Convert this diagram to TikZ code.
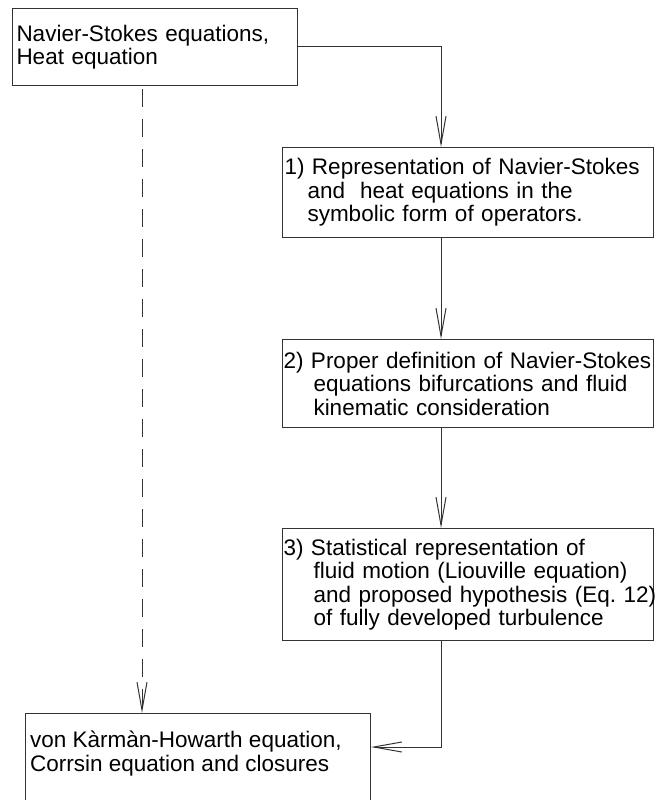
\documentclass[tikz,border=0pt]{standalone}
\usepackage{fontspec}
\setmainfont{Liberation Sans}
\usetikzlibrary{arrows.meta}
\frenchspacing
\begin{document}
\begin{tikzpicture}[x=1pt,y=-1pt,
  box/.style={draw=black!80, line width=1pt, anchor=north west, inner ysep=0pt,
    align=left, font=\fontsize{22.5}{23.5}\selectfont},
  txt/.style={inner sep=0pt, align=left, font=\fontsize{22.5}{23.5}\selectfont},
  conn/.style={draw=black!80, line width=1pt, -{Straight Barb[length=28pt,width=10pt]}},
  dconn/.style={conn, dash pattern=on 18pt off 12pt},
]
\useasboundingbox (0,0) rectangle (668,800);
\clip (0,0) rectangle (668,800);

\node[box, inner xsep=4pt, minimum width=285pt, minimum height=77pt, text width=277pt] (A) at (12,8)
  {Navier-Stokes equations,\\Heat equation};

\node[box, inner xsep=2pt, minimum width=371pt, minimum height=90pt, text width=367pt] (B1) at (282,147)
  {\mbox{1) Representation of Navier-Stokes}\\\mbox{\hspace*{23pt}and \ heat equations in the}\\\mbox{\hspace*{23pt}symbolic form of operators.}};

\node[box, inner xsep=1pt, minimum width=371pt, minimum height=88pt, text width=369pt] (B2) at (282,339)
  {\mbox{2) Proper definition of Navier-Stokes}\\\mbox{\hspace*{30pt}equations bifurcations and fluid}\\\mbox{\hspace*{30pt}kinematic consideration}};

\node[box, inner xsep=1pt, minimum width=371pt, minimum height=112pt, text width=369pt] (B3) at (282,528)
  {\mbox{3) Statistical representation of}\\\mbox{\hspace*{30pt}fluid motion (Liouville equation)}\\\mbox{\hspace*{30pt}and proposed hypothesis (Eq.\ 12)}\\\mbox{\hspace*{30pt}of fully developed turbulence}};

\node[box, minimum width=345pt, minimum height=130pt] (K) at (25,713) {};
\node[txt, anchor=north west] (Kt) at (30,731)
  {von Kàrmàn-Howarth equation,\\Corrsin equation and closures};

\draw[conn] (A.east) -| ([xshift=159pt]B1.north west);
\draw[conn] ([xshift=159pt]B1.south west) -- ([xshift=159pt]B2.north west);
\draw[conn] ([xshift=159pt]B2.south west) -- ([xshift=159pt]B3.north west);
\draw[conn] ([xshift=159pt]B3.south west) |- ([yshift=-34pt]K.north east);
\draw[dconn, shorten <=3pt] ([xshift=130pt]A.south west) -- ([xshift=117pt]K.north west);
\end{tikzpicture}
\end{document}
